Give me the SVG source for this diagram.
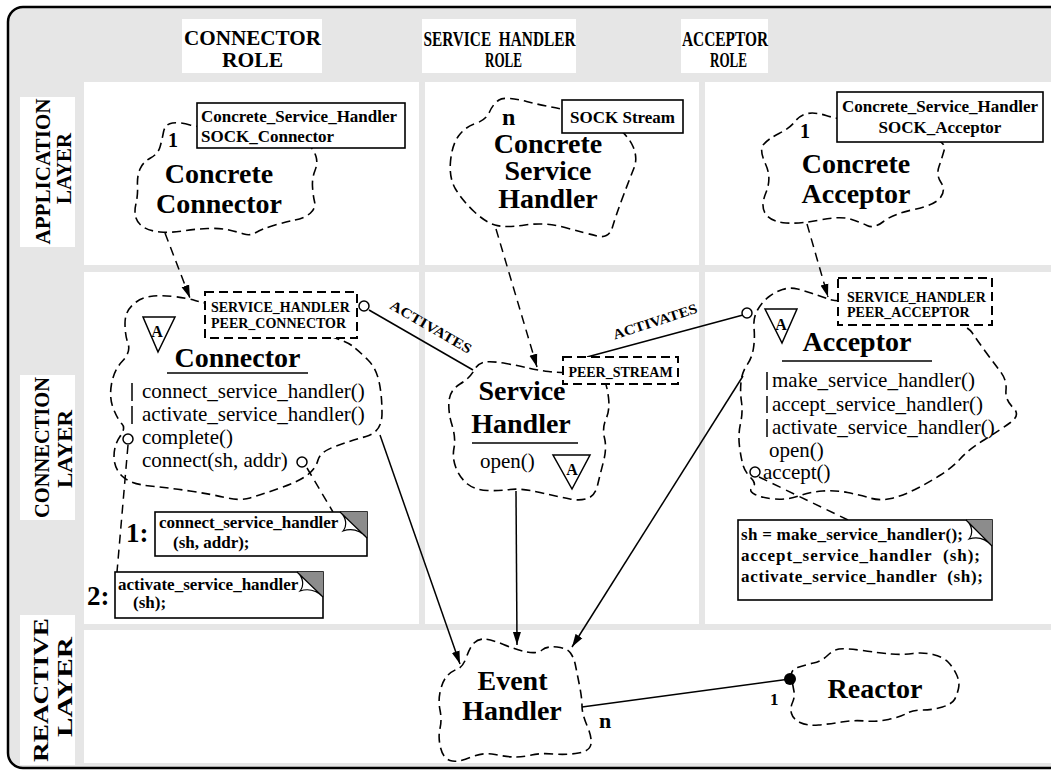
<svg xmlns="http://www.w3.org/2000/svg" width="1051" height="775" viewBox="0 0 1051 775">
  <style>
    .cell { fill: #ffffff; }
    .cloud { fill: none; stroke: #000; stroke-width: 1.6; stroke-dasharray: 9 5; }
    .dbox { fill: #ffffff; stroke: #000; stroke-width: 2; stroke-dasharray: 9 5; }
    .box { fill: #ffffff; stroke: #000; stroke-width: 1.6; }
    .dep { fill: none; stroke: #000; stroke-width: 1.5; stroke-dasharray: 9 6; }
    .solid { fill: none; stroke: #000; stroke-width: 1.5; }
    .ring { fill: #ffffff; stroke: #000; stroke-width: 1.5; }
    .rule { stroke: #000; stroke-width: 1.5; }
    .hdr { font-family: "Liberation Serif", serif; font-weight: bold; font-size: 21px; text-anchor: middle; }
    .cls { font-family: "Liberation Serif", serif; font-weight: bold; font-size: 28px; text-anchor: middle; }
    .op { font-family: "Liberation Serif", serif; font-size: 21px; }
    .code { font-family: "Liberation Serif", serif; font-weight: bold; font-size: 17px; }
    .tag { font-family: "Liberation Serif", serif; font-weight: bold; font-size: 14px; }
    .num { font-family: "Liberation Serif", serif; font-weight: bold; }
    .fold { fill: #8c8c8c; }
    .flap { fill: #ffffff; stroke: #000; stroke-width: 1.2; }
  </style>
  <defs>
    <marker id="arrow" markerUnits="userSpaceOnUse" markerWidth="14" markerHeight="10" refX="13" refY="5" orient="auto">
      <path d="M0,1 L13,5 L0,9 z" fill="#000"/>
    </marker>
  </defs>

  <!-- frame and grid -->
  <g id="frame">
    <rect x="8" y="7" width="1070" height="761" rx="15" fill="#e6e6e6" stroke="#000" stroke-width="2.5"/>
    <rect class="cell" x="84" y="82" width="335" height="183"/>
    <rect class="cell" x="425" y="82" width="274" height="183"/>
    <rect class="cell" x="705" y="82" width="360" height="183"/>
    <rect class="cell" x="84" y="272" width="335" height="352"/>
    <rect class="cell" x="425" y="272" width="274" height="352"/>
    <rect class="cell" x="705" y="272" width="360" height="352"/>
    <rect class="cell" x="84" y="630" width="981" height="133"/>
  </g>

  <!-- column and row headings -->
  <g id="headings">
    <rect class="cell" x="182" y="19" width="140" height="54"/>
    <text class="hdr" x="252.5" y="45" textLength="137" lengthAdjust="spacingAndGlyphs">CONNECTOR</text>
    <text class="hdr" x="252.5" y="67" textLength="61" lengthAdjust="spacingAndGlyphs">ROLE</text>
    <rect class="cell" x="422" y="19" width="154" height="54"/>
    <text class="hdr" x="499.5" y="46" textLength="152" lengthAdjust="spacingAndGlyphs">SERVICE&#160; HANDLER</text>
    <text class="hdr" x="503.5" y="67" textLength="37" lengthAdjust="spacingAndGlyphs">ROLE</text>
    <rect class="cell" x="681" y="19" width="87" height="54"/>
    <text class="hdr" x="725" y="46" textLength="86" lengthAdjust="spacingAndGlyphs">ACCEPTOR</text>
    <text class="hdr" x="728.5" y="67" textLength="37" lengthAdjust="spacingAndGlyphs">ROLE</text>

    <rect class="cell" x="20" y="97" width="55" height="150"/>
    <text class="hdr" transform="translate(50,171.5) rotate(-90)" textLength="146" lengthAdjust="spacingAndGlyphs">APPLICATION</text>
    <text class="hdr" transform="translate(71,168.5) rotate(-90)" textLength="71" lengthAdjust="spacingAndGlyphs">LAYER</text>
    <rect class="cell" x="20" y="375" width="55" height="145"/>
    <text class="hdr" transform="translate(49,447.5) rotate(-90)" textLength="141" lengthAdjust="spacingAndGlyphs">CONNECTION</text>
    <text class="hdr" transform="translate(72,449) rotate(-90)" textLength="78" lengthAdjust="spacingAndGlyphs">LAYER</text>
    <rect class="cell" x="20" y="615" width="55" height="150"/>
    <text class="hdr" transform="translate(48,690) rotate(-90)" textLength="144" lengthAdjust="spacingAndGlyphs">REACTIVE</text>
    <text class="hdr" transform="translate(72,687) rotate(-90)" textLength="100" lengthAdjust="spacingAndGlyphs">LAYER</text>
  </g>

  <!-- connectors -->
  <g id="connectors">
    <line class="dep" x1="165" y1="233" x2="190" y2="298" marker-end="url(#arrow)"/>
    <line class="dep" x1="496" y1="229" x2="537" y2="367" marker-end="url(#arrow)"/>
    <line class="dep" x1="807" y1="224" x2="828" y2="297" marker-end="url(#arrow)"/>
    <line class="solid" x1="369" y1="310" x2="473" y2="370"/>
    <line class="solid" x1="587" y1="357" x2="743" y2="315"/>
    <line class="solid" x1="380" y1="435" x2="460" y2="664" marker-end="url(#arrow)"/>
    <line class="solid" x1="516" y1="491" x2="517" y2="645" marker-end="url(#arrow)"/>
    <line class="solid" x1="743" y1="376" x2="572" y2="647" marker-end="url(#arrow)"/>
    <line class="solid" x1="582" y1="707" x2="790" y2="679"/>
    <line class="dep" x1="128" y1="445" x2="117" y2="572"/>
    <line class="dep" x1="307" y1="468" x2="333" y2="512"/>
    <line class="dep" x1="759" y1="477" x2="848" y2="520"/>
    <text class="tag" font-size="15" text-anchor="middle" transform="translate(428.5,331) rotate(30)" textLength="92" lengthAdjust="spacingAndGlyphs">ACTIVATES</text>
    <text class="tag" font-size="15" text-anchor="middle" transform="translate(656.5,326) rotate(-18)" textLength="88" lengthAdjust="spacingAndGlyphs">ACTIVATES</text>
    <circle class="ring" cx="364" cy="306" r="5"/>
    <circle class="ring" cx="747" cy="313" r="5"/>
    <circle cx="790" cy="679" r="6" fill="#000"/>
    <text class="num" font-size="22" x="599" y="728">n</text>
    <text class="num" font-size="17" x="770" y="705">1</text>
  </g>

  <!-- application layer -->
  <g id="concrete-connector">
    <path class="cloud" d="M190,125 Q180,122 172.5,123 Q165,124 163.5,132 Q162,140 160,147 Q158,154 150.5,158 Q143,162 140,169 Q137,176 137.5,185.5 Q138,195 136,203.5 Q134,212 136,218 Q138,224 144,227.5 Q150,231 160,232 Q170,233 182.5,231 Q195,229 207.5,228.5 Q220,228 229,230 Q238,232 244,234 Q250,236 256,232.5 Q262,229 273.5,225.5 Q285,222 295,220 Q305,218 310.5,213 Q316,208 314.5,201.5 Q313,195 312.5,186.5 Q312,178 315,170.5 Q318,163 316,156.5 Q314,150 307,142.5 Q300,135 250,131.5 Q200,128 190,125 Z"/>
    <rect class="box" x="197" y="103" width="208" height="45"/>
    <text class="code" x="201" y="122">Concrete_Service_Handler</text>
    <text class="code" x="201" y="142">SOCK_Connector</text>
    <text class="num" font-size="20" x="168" y="147">1</text>
    <text class="cls" x="219" y="183">Concrete</text>
    <text class="cls" x="219" y="213">Connector</text>
  </g>

  <g id="concrete-service-handler">
    <path class="cloud" d="M574,111 Q548,107 526.5,101.5 Q505,96 499,100 Q493,104 489.5,112 Q486,120 475.5,123.5 Q465,127 458.5,136 Q452,145 450.5,161.5 Q449,178 455.5,189 Q462,200 473.5,211 Q485,222 495,225 Q505,228 525,225 Q545,222 565,227.5 Q585,233 597,236 Q609,239 612.5,227 Q616,215 623,196.5 Q630,178 634,168 Q638,158 633,146.5 Q628,135 614,125 Q600,115 574,111 Z"/>
    <rect class="box" x="562" y="100" width="121" height="33"/>
    <text class="code" x="622.5" y="123" text-anchor="middle">SOCK Stream</text>
    <text class="num" font-size="24" x="502" y="125">n</text>
    <text class="cls" x="548" y="153">Concrete</text>
    <text class="cls" x="548" y="180">Service</text>
    <text class="cls" x="548" y="208">Handler</text>
  </g>

  <g id="concrete-acceptor">
    <path class="cloud" d="M858.5,122 Q837,119 826,115.5 Q815,112 807.5,113.5 Q800,115 795,121.5 Q790,128 779,133.5 Q768,139 763.5,144.5 Q759,150 765.5,164 Q772,178 766,192.5 Q760,207 766,214.5 Q772,222 786,223 Q800,224 820,220 Q840,216 850,219 Q860,222 867,225.5 Q874,229 883.5,221.5 Q893,214 914,209.5 Q935,205 940.5,197.5 Q946,190 941,182.5 Q936,175 939,166.5 Q942,158 944.5,149 Q947,140 913.5,132.5 Q880,125 858.5,122 Z"/>
    <rect class="box" x="837" y="92" width="206" height="50"/>
    <text class="code" x="940" y="112" text-anchor="middle">Concrete_Service_Handler</text>
    <text class="code" x="940" y="133" text-anchor="middle">SOCK_Acceptor</text>
    <text class="num" font-size="20" x="800" y="138">1</text>
    <text class="cls" x="856" y="173">Concrete</text>
    <text class="cls" x="856" y="203">Acceptor</text>
  </g>

  <!-- connection layer -->
  <g id="connector">
    <path class="cloud" d="M226.5,306.5 Q203,303 195,300.5 Q187,298 173.5,296.5 Q160,295 150,296.5 Q140,298 132.5,305 Q125,312 125,323.5 Q125,335 128,343.5 Q131,352 122.5,361 Q114,370 111.5,384 Q109,398 113.5,409 Q118,420 122,424 Q126,428 120,436.5 Q114,445 114,456.5 Q114,468 122,476 Q130,484 150,486 Q170,488 190,491 Q210,494 225,497.5 Q240,501 250,498 Q260,495 280,488 Q300,481 308,474.5 Q316,468 318,460 Q320,452 335,446.5 Q350,441 366,436.5 Q382,432 382,413.5 Q382,395 379,381.5 Q376,368 368,360 Q360,352 352.5,346 Q345,340 297.5,325 Q250,310 226.5,306.5 Z"/>
    <rect class="dbox" x="205" y="292" width="152" height="46"/>
    <text class="tag" x="211" y="312">SERVICE_HANDLER</text>
    <text class="tag" x="211" y="328">PEER_CONNECTOR</text>
    <path d="M143,317 L175,317 L158,352 Z" fill="#fff" stroke="#000" stroke-width="1.5"/>
    <text class="num" font-size="16" x="157" y="337" text-anchor="middle">A</text>
    <text class="cls" x="237.5" y="367">Connector</text>
    <line class="rule" x1="167" y1="373" x2="308" y2="373"/>
    <line class="rule" x1="132" y1="383" x2="132" y2="401"/>
    <line class="rule" x1="132" y1="406" x2="132" y2="424"/>
    <text class="op" x="142" y="398">connect_service_handler()</text>
    <text class="op" x="142" y="421">activate_service_handler()</text>
    <text class="op" x="142" y="444">complete()</text>
    <text class="op" x="142" y="467">connect(sh, addr)</text>
    <circle class="ring" cx="128" cy="439" r="5"/>
    <circle class="ring" cx="302" cy="462" r="5"/>
  </g>

  <g id="connector-notes">
    <rect class="box" x="155" y="512" width="212" height="44"/>
    <path class="fold" d="M340,512 L367,512 L367,538 Z"/>
    <path class="flap" d="M340,512 C347,518 347,526 343,531 C352,528 360,530 367,538 Z"/>
    <text class="code" x="159" y="528">connect_service_handler</text>
    <text class="code" x="173" y="548">(sh, addr);</text>
    <text class="num" font-size="27" x="126" y="542">1:</text>
    <rect class="box" x="115" y="572" width="208" height="46"/>
    <path class="fold" d="M297,572 L323,572 L323,597 Z"/>
    <path class="flap" d="M297,572 C304,578 304,586 300,591 C309,588 316,590 323,597 Z"/>
    <text class="code" x="118" y="590">activate_service_handler</text>
    <text class="code" x="133" y="608">(sh);</text>
    <text class="num" font-size="27" x="87" y="605">2:</text>
  </g>

  <g id="service-handler">
    <path class="cloud" d="M580,372.5 Q560,373 548.5,371.5 Q537,370 528.5,368 Q520,366 506,363.5 Q492,361 485,362 Q478,363 474,370.5 Q470,378 460,384 Q450,390 449,401 Q448,412 452,425 Q456,438 454,448 Q452,458 456,468 Q460,478 467.5,484 Q475,490 487.5,490.5 Q500,491 510,489.5 Q520,488 540,492.5 Q560,497 570,499 Q580,501 587.5,498.5 Q595,496 597.5,485.5 Q600,475 603.5,461.5 Q607,448 604.5,438 Q602,428 606,419 Q610,410 608.5,397.5 Q607,385 603.5,378.5 Q600,372 580,372.5 Z"/>
    <rect class="dbox" x="563" y="357" width="115" height="27"/>
    <text class="tag" x="620.5" y="377" text-anchor="middle">PEER_STREAM</text>
    <text class="cls" x="522" y="400">Service</text>
    <text class="cls" x="521" y="433">Handler</text>
    <line class="rule" x1="472" y1="443" x2="578" y2="443"/>
    <text class="op" x="480" y="468">open()</text>
    <path d="M553,455 L590,455 L572,489 Z" fill="#fff" stroke="#000" stroke-width="1.5"/>
    <text class="num" font-size="16" x="572" y="475" text-anchor="middle">A</text>
  </g>

  <g id="acceptor">
    <path class="cloud" d="M868,301 Q836,302 828,299 Q820,296 812.5,293.5 Q805,291 797.5,289 Q790,287 782.5,289.5 Q775,292 768.5,297 Q762,302 757.5,310 Q753,318 754,328 Q755,338 753.5,348 Q752,358 747,365 Q742,372 741,382 Q740,392 741.5,402 Q743,412 740.5,423.5 Q738,435 739.5,446.5 Q741,458 743,465 Q745,472 751,478 Q757,484 752.5,487.5 Q748,491 755,494.5 Q762,498 774.5,499 Q787,500 798.5,496 Q810,492 822.5,491 Q835,490 847.5,492.5 Q860,495 870,498 Q880,501 891,498.5 Q902,496 915,489.5 Q928,483 940.5,475 Q953,467 960.5,458.5 Q968,450 984,440 Q1000,430 1010.5,422.5 Q1021,415 1013,407.5 Q1005,400 1006,390 Q1007,380 1000,371 Q993,362 985,351 Q977,340 972,332.5 Q967,325 933.5,312.5 Q900,300 868,301 Z"/>
    <rect class="dbox" x="838" y="278" width="154" height="47"/>
    <text class="tag" x="847" y="302">SERVICE_HANDLER</text>
    <text class="tag" x="847" y="317">PEER_ACCEPTOR</text>
    <path d="M765,309 L797,309 L782,343 Z" fill="#fff" stroke="#000" stroke-width="1.5"/>
    <text class="num" font-size="16" x="781" y="330" text-anchor="middle">A</text>
    <text class="cls" x="857" y="351">Acceptor</text>
    <line class="rule" x1="782" y1="361" x2="932" y2="361"/>
    <line class="rule" x1="767" y1="372" x2="767" y2="390"/>
    <line class="rule" x1="767" y1="396" x2="767" y2="413"/>
    <line class="rule" x1="767" y1="419" x2="767" y2="437"/>
    <text class="op" x="772" y="387">make_service_handler()</text>
    <text class="op" x="772" y="411">accept_service_handler()</text>
    <text class="op" x="772" y="434">activate_service_handler()</text>
    <text class="op" x="769" y="457">open()</text>
    <text class="op" x="763" y="479">accept()</text>
    <circle class="ring" cx="755" cy="472" r="5"/>
  </g>

  <g id="acceptor-note">
    <rect class="box" x="738" y="520" width="254" height="80"/>
    <path class="fold" d="M966,520 L992,520 L992,546 Z"/>
    <path class="flap" d="M966,520 C973,526 973,534 969,539 C978,536 985,538 992,546 Z"/>
    <text class="code" x="741" y="540" textLength="222" lengthAdjust="spacing">sh = make_service_handler();</text>
    <text class="code" x="741" y="561" textLength="239" lengthAdjust="spacing">accept_service_handler&#160; (sh);</text>
    <text class="code" x="741" y="582" textLength="242" lengthAdjust="spacing">activate_service_handler&#160; (sh);</text>
  </g>

  <!-- reactive layer -->
  <g id="event-handler">
    <path class="cloud" d="M474,643 Q478,639 484,639 Q490,639 503.5,644.5 Q517,650 527,652 Q537,654 542,650 Q547,646 557,647 Q567,648 570.5,653 Q574,658 575.5,665.5 Q577,673 579.5,685.5 Q582,698 582,706 Q582,714 587,725.5 Q592,737 591,744 Q590,751 578.5,753 Q567,755 553.5,754 Q540,753 531.5,755 Q523,757 515,757 Q507,757 495,754.5 Q483,752 470,757.5 Q457,763 450,760.5 Q443,758 440.5,747.5 Q438,737 440,728.5 Q442,720 440,710 Q438,700 440.5,690 Q443,680 447.5,675.5 Q452,671 457.5,669 Q463,667 466.5,657 Q470,647 474,643 Z"/>
    <text class="cls" font-size="27" x="512.5" y="690">Event</text>
    <text class="cls" font-size="27" x="512" y="720">Handler</text>
  </g>

  <g id="reactor">
    <path class="cloud" d="M797.5,667.5 Q805,665 813.5,663 Q822,661 827.5,655.5 Q833,650 839,649 Q845,648 862.5,650.5 Q880,653 891.5,654 Q903,655 913,653.5 Q923,652 933,654.5 Q943,657 948,662 Q953,667 956.5,674.5 Q960,682 958.5,688.5 Q957,695 954.5,699.5 Q952,704 942.5,707 Q933,710 923,710 Q913,710 906.5,713.5 Q900,717 888.5,719.5 Q877,722 865,721 Q853,720 841.5,722 Q830,724 818.5,725 Q807,726 800,722.5 Q793,719 791.5,713.5 Q790,708 792.5,702.5 Q795,697 794,691.5 Q793,686 791.5,678 Q790,670 797.5,667.5 Z"/>
    <text class="cls" x="875" y="698">Reactor</text>
  </g>
</svg>
